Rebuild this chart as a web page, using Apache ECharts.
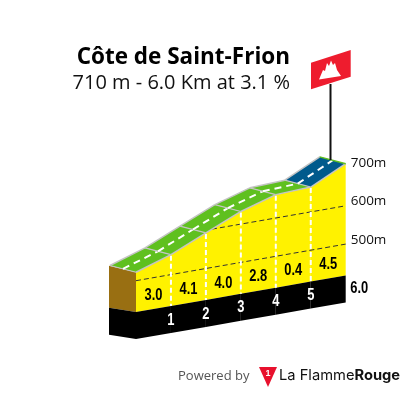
<!DOCTYPE html>
<html>
<head>
<meta charset="utf-8">
<style>
  html, body { margin: 0; padding: 0; background: #fff; }
  #main { width: 405px; height: 393px; }
</style>
<script src="https://cdn.jsdelivr.net/npm/echarts@6/dist/echarts.min.js"></script>
</head>
<body>
<div id="main"></div>
<script>
// values
var kmMarks = [0, 1, 2, 3, 4, 5, 6];
var elevations = [522, 552, 593, 633, 661, 665, 710];
var gradients = ['3.0', '4.1', '4.0', '2.8', '0.4', '4.5'];
var kmLabels = ['1', '2', '3', '4', '5'];
var totalLabel = '6.0';
var elevationTicks = [500, 600, 700];
var dashedLevels = [500, 600];
var roadColors = ['#5fc01f', '#5fc01f', '#5fc01f', '#5fc01f', '#5fc01f', '#005a8c'];
var baseElevation = 418;

// the pseudo 3d look: the ground rises to the right by a fixed number of px per km
var shear = 6.1;
var band = 27;
var roadDx = -26;
var roadDy = -6.8;

function pt(api, km, ele) {
    var c = api.coord([km, ele]);
    return [c[0], c[1] - shear * km];
}

function crossing(level) {
    for (var i = 0; i < kmMarks.length - 1; i++) {
        if (elevations[i] <= level && elevations[i + 1] > level) {
            return kmMarks[i] + (level - elevations[i]) / (elevations[i + 1] - elevations[i]);
        }
    }
    return kmMarks[0];
}

function poly(points, fill) {
    return { type: 'polygon', shape: { points: points }, style: { fill: fill } };
}

function line(a, b, color, width, dash) {
    return {
        type: 'line',
        shape: { x1: a[0], y1: a[1], x2: b[0], y2: b[1] },
        style: { stroke: color, lineWidth: width, lineDash: dash || null }
    };
}

// no narrow font installed, so squeeze the bold one
function label(text, p, color, align) {
    return {
        type: 'text',
        x: p[0],
        y: p[1],
        scaleX: 0.76,
        style: {
            text: text, x: 0, y: 0,
            font: 'bold 17px "Liberation Sans", sans-serif',
            fill: color,
            textAlign: align || 'center',
            textVerticalAlign: 'middle'
        }
    };
}

// one group per km stretch
function renderBody(params, api) {
    var i = params.dataIndex;
    if (i >= kmMarks.length - 1) return { type: 'group', children: [] };
    var k0 = kmMarks[i], k1 = kmMarks[i + 1];
    var t0 = pt(api, k0, elevations[i]), t1 = pt(api, k1, elevations[i + 1]);
    var b0 = pt(api, k0, baseElevation), b1 = pt(api, k1, baseElevation);
    var kids = [
        poly([t0, t1, b1, b0], '#fff200'),
        poly([b0, b1, [b1[0], b1[1] + band], [b0[0], b0[1] + band]], '#000')
    ];
    if (i === 0) {
        var backTop = [t0[0] - 27, t0[1] - 6.5];
        var backBase = [b0[0] - 27, b0[1] - 4.3];
        kids.push(poly([backTop, t0, b0, backBase], '#996f12'));
        kids.push(poly([backBase, b0, [b0[0], b0[1] + band], [backBase[0], backBase[1] + band]], '#000'));
    }
    return { type: 'group', children: kids };
}

function renderLevels(params, api) {
    var level = dashedLevels[params.dataIndex];
    return line(pt(api, crossing(level), level), pt(api, kmMarks[kmMarks.length - 1], level), '#333', 1, [5, 3]);
}

function renderRoad(params, api) {
    var i = params.dataIndex;
    if (i >= kmMarks.length - 1) return { type: 'group', children: [] };
    var f0 = pt(api, kmMarks[i], elevations[i]), f1 = pt(api, kmMarks[i + 1], elevations[i + 1]);
    var r0 = [f0[0] + roadDx, f0[1] + roadDy], r1 = [f1[0] + roadDx, f1[1] + roadDy];
    var m0 = [f0[0] + roadDx / 2, f0[1] + roadDy / 2], m1 = [f1[0] + roadDx / 2, f1[1] + roadDy / 2];
    var last = i === kmMarks.length - 2;
    var kids = [
        poly([f0, f1, r1, r0], roadColors[i]),
        line(f0, f1, '#c4c4c4', 1.5),
        line(r0, r1, '#c4c4c4', 1.5),
        line(f0, r0, '#c4c4c4', 1.2),
        line(m0, m1, '#fff', 2, [7, 5])
    ];
    if (last) {
        kids.push(line(f1, r1, '#5fc01f', 1.5));
    }
    return { type: 'group', children: kids };
}

function renderMarks(params, api) {
    var i = params.dataIndex;
    if (i >= kmMarks.length - 1) {
        var end = pt(api, kmMarks[i], baseElevation);
        return label(totalLabel, [end[0] + 4.5, end[1] + band / 2 - 1], '#000', 'left');
    }
    var midKm = (kmMarks[i] + kmMarks[i + 1]) / 2;
    var mid = pt(api, midKm, baseElevation);
    var kids = [label(gradients[i], [mid[0], mid[1] - 14], '#000')];
    if (i < kmLabels.length) {
        var top = pt(api, kmMarks[i + 1], elevations[i + 1]);
        var bot = pt(api, kmMarks[i + 1], baseElevation);
        kids.push(line([top[0], top[1] + 1], bot, '#fff', 2, [5, 3]));
        kids.push(label(kmLabels[i], [bot[0], bot[1] + band / 2 + 0.5], '#fff'));
    }
    return { type: 'group', children: kids };
}

var profile = kmMarks.map(function (km, i) { return [km, elevations[i]]; });

var myChart = echarts.init(document.getElementById('main'));
myChart.setOption({
    animation: false,
    backgroundColor: '#fff',
    title: [{
        text: 'Côte de Saint-Frion',
        left: 285,
        top: 41,
        textAlign: 'right',
        textStyle: { fontFamily: 'Open Sans', fontWeight: 'bold', fontSize: 22.5, color: '#000' }
    }, {
        text: '710 m - 6.0 Km at 3.1 %',
        left: 285,
        top: 68,
        textAlign: 'right',
        textStyle: { fontFamily: 'Open Sans', fontWeight: 'normal', fontSize: 20, color: '#111' }
    }],
    grid: [
        { left: 136, right: 59.3, top: 165.8, height: 153.2 },
        { left: 136, right: 59.3, top: 124.8, height: 153.2, show: false }
    ],
    xAxis: [
        { type: 'value', gridIndex: 0, min: 0, max: 6, show: false },
        { type: 'value', gridIndex: 1, min: 0, max: 6, show: false }
    ],
    yAxis: [
        { type: 'value', gridIndex: 0, min: 400, max: 800, show: false },
        {
            type: 'value',
            gridIndex: 1,
            min: 400,
            max: 800,
            interval: 100,
            position: 'right',
            axisLine: { show: false },
            axisTick: { show: false },
            splitLine: { show: false },
            axisLabel: {
                customValues: elevationTicks,
                formatter: '{value}m',
                margin: 5,
                fontFamily: 'Open Sans',
                fontSize: 13.5,
                color: '#111'
            }
        }
    ],
    series: [
        { type: 'custom', xAxisIndex: 0, yAxisIndex: 0, silent: true, renderItem: renderBody, data: profile, z: 2 },
        { type: 'custom', xAxisIndex: 0, yAxisIndex: 0, silent: true, renderItem: renderLevels, data: dashedLevels.map(function (l) { return [0, l]; }), z: 3 },
        { type: 'custom', xAxisIndex: 0, yAxisIndex: 0, silent: true, renderItem: renderMarks, data: profile, z: 4 },
        { type: 'custom', xAxisIndex: 0, yAxisIndex: 0, silent: true, renderItem: renderRoad, data: profile, z: 5 }
    ],
    graphic: [
        // summit flag
        { type: 'line', z: 6, shape: { x1: 330.5, y1: 84, x2: 330.5, y2: 160 }, style: { stroke: '#111', lineWidth: 2 } },
        { type: 'polygon', z: 6, shape: { points: [[311, 62.7], [350.7, 50], [350.7, 76.7], [311, 89.3]] }, style: { fill: '#ee1c2e' } },
        { type: 'polygon', z: 7, shape: { points: [[319, 79.5], [323, 70], [325, 71], [327, 63], [329, 66], [331, 60.5], [333, 65], [335, 63], [337, 70], [341, 76]] }, style: { fill: '#fff' } },
        // footer logo
        { type: 'text', z: 6, style: { text: 'Powered by', x: 178, y: 376, font: '13px "Open Sans"', fill: '#555', textVerticalAlign: 'middle' } },
        { type: 'polygon', z: 6, shape: { points: [[259, 367], [277, 367], [268, 387]] }, style: { fill: '#e8112d' } },
        { type: 'text', z: 7, style: { text: '1', x: 268, y: 373.5, font: 'bold 9px "Liberation Sans"', fill: '#fff', textAlign: 'center', textVerticalAlign: 'middle' } },
        {
            type: 'text',
            z: 6,
            style: {
                text: '{a|La Flamme}{b|Rouge}',
                x: 279,
                y: 376,
                textVerticalAlign: 'middle',
                rich: {
                    a: { fontFamily: 'Inter', fontSize: 14.7, fontWeight: 'normal', fill: '#111', color: '#111' },
                    b: { fontFamily: 'Inter', fontSize: 14.7, fontWeight: 'bold', fill: '#111', color: '#111' }
                }
            }
        }
    ]
});
</script>
</body>
</html>
